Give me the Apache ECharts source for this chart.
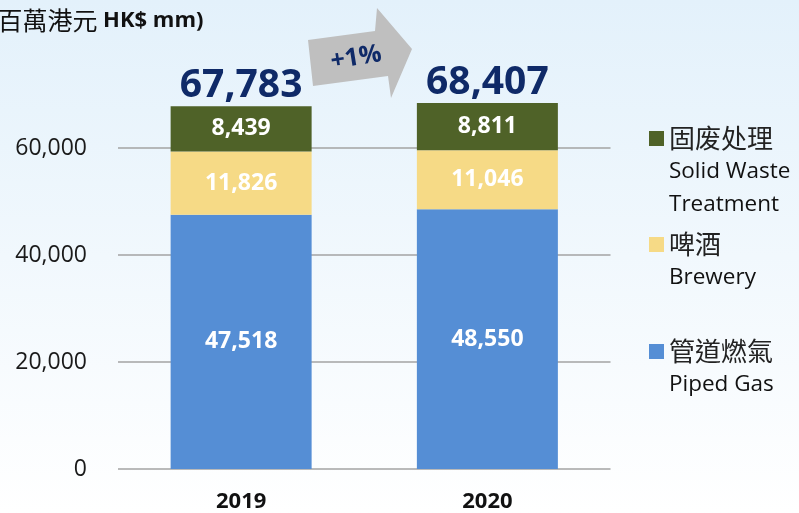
<!DOCTYPE html>
<html>
<head>
<meta charset="utf-8">
<script src="https://cdn.jsdelivr.net/npm/echarts@6/dist/echarts.min.js"></script>
<style>
  html, body { margin: 0; padding: 0; }
  #main { width: 799px; height: 513px; }
</style>
</head>
<body>
<div id="main"></div>
<script>
// data
var years = ['2019', '2020'];
var pipedGas = [47518, 48550];
var brewery = [11826, 11046];
var solidWaste = [8439, 8811];
var totals = [67783, 68407];
var growthText = '+1%';
var unitText = '(百萬港元 {b|HK$ mm)}';
var legendNames = ['固废处理', '啤酒', '管道燃氣'];
var legendEnglish = {
  '固废处理': ['Solid Waste', 'Treatment'],
  '啤酒': ['Brewery', ' '],
  '管道燃氣': ['Piped Gas', ' ']
};
// icon centre of each legend entry (px from top)
var legendTops = [137, 243, 350];

var font = "'Open Sans', 'Noto Sans CJK TC', sans-serif";
var navy = '#0f2a68';
var gridColor = '#a3a3a3';

function fmt(v) {
  return Number(v).toLocaleString('en-US');
}

var chart = echarts.init(document.getElementById('main'), null, { renderer: 'canvas' });

function barSeries(name, data, color) {
  return {
    name: name,
    type: 'bar',
    stack: 'total',
    barWidth: 141,
    data: data,
    itemStyle: { color: color },
    label: {
      show: true,
      position: 'inside',
      color: '#ffffff',
      fontFamily: font,
      fontWeight: 'bold',
      fontSize: 23,
      formatter: function (p) { return fmt(p.value); }
    }
  };
}

// one legend per entry so the square sits next to the first (Chinese) line
var legends = legendNames.map(function (name, i) {
  return {
    data: [name],
    orient: 'vertical',
    left: 649,
    top: legendTops[i] - 11.5,
    padding: 0,
    itemWidth: 15,
    itemHeight: 15,
    itemGap: 6,
    icon: 'rect',
    selectedMode: false,
    formatter: function (n) {
      var en = legendEnglish[n];
      return '{cn|' + n + '}\n{en|' + en[0] + '}\n{en|' + en[1] + '}';
    },
    textStyle: {
      padding: [66, 0, 0, 0],
      rich: {
        cn: { fontFamily: "'Noto Sans CJK TC', sans-serif", fontSize: 26, lineHeight: 33, color: '#222222' },
        en: { fontFamily: font, fontSize: 22.5, lineHeight: 33, color: '#111111' }
      }
    }
  };
});

var option = {
  backgroundColor: new echarts.graphic.LinearGradient(0, 0, 0, 1, [
    { offset: 0, color: '#e3f1fb' },
    { offset: 1, color: '#ffffff' }
  ]),
  animation: false,
  grid: {
    left: 118,
    right: 188.5,
    top: 41,
    bottom: 44,
    outerBoundsMode: 'none'
  },
  xAxis: {
    type: 'category',
    data: years,
    axisLine: { show: false },
    axisTick: { show: false },
    axisLabel: {
      margin: 22,
      color: '#111111',
      fontFamily: font,
      fontWeight: 'bold',
      fontSize: 22
    }
  },
  yAxis: {
    type: 'value',
    min: 0,
    max: 80000,
    interval: 20000,
    axisLine: { show: false },
    axisTick: { show: false },
    axisLabel: {
      margin: 31,
      showMaxLabel: false,
      color: '#1a1a1a',
      fontFamily: font,
      fontSize: 23,
      formatter: function (v) { return v >= 80000 ? '' : fmt(v); }
    },
    splitLine: {
      showMaxLine: false,
      lineStyle: { color: gridColor, width: 1.5 }
    }
  },
  legend: legends,
  graphic: [
    {
      type: 'text',
      left: -11,
      top: 8,
      style: {
        text: unitText,
        fontFamily: "'Noto Sans CJK TC', sans-serif",
        fontSize: 25,
        fill: '#111111',
        rich: {
          b: { fontFamily: font, fontWeight: 'bold', fontSize: 22, fill: '#111111' }
        }
      }
    },
    {
      type: 'polygon',
      shape: {
        points: [[308, 40], [375, 31], [377, 8], [412, 49], [391, 98], [388, 76], [313, 86]]
      },
      style: { fill: '#bfbfbf' }
    },
    {
      type: 'text',
      x: 356,
      y: 58,
      rotation: 0.16,
      style: {
        text: growthText,
        fontFamily: font,
        fontWeight: 'bold',
        fontSize: 25,
        fill: navy,
        align: 'center',
        verticalAlign: 'middle'
      }
    }
  ],
  series: [
    barSeries('管道燃氣', pipedGas, '#558ed5'),
    barSeries('啤酒', brewery, '#f6da86'),
    barSeries('固废处理', solidWaste, '#4f6228'),
    {
      name: 'total',
      type: 'line',
      data: totals,
      symbol: 'circle',
      symbolSize: 1,
      silent: true,
      itemStyle: { color: 'rgba(0,0,0,0)' },
      lineStyle: { opacity: 0 },
      z: 10,
      label: {
        show: true,
        position: 'top',
        distance: 0,
        color: navy,
        fontFamily: font,
        fontWeight: 'bold',
        fontSize: 39,
        formatter: function (p) { return fmt(p.value); }
      }
    }
  ]
};

chart.setOption(option);
</script>
</body>
</html>
